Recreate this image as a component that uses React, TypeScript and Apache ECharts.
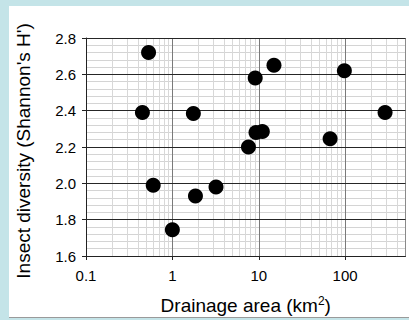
import React, { useEffect, useRef } from "react";
import * as echarts from "echarts";

const drainageArea = [0.53, 0.45, 0.6, 1.0, 1.75, 1.85, 3.2, 7.6, 9.1, 9.3, 11, 15, 98, 67, 290];
const shannonH = [2.72, 2.39, 1.99, 1.745, 2.385, 1.93, 1.98, 2.2, 2.58, 2.28, 2.285, 2.65, 2.62, 2.245, 2.39];

const xMajorTicks = [0.1, 1, 10, 100];
const xMinorTicks = [
  0.2, 0.3, 0.4, 0.5, 0.6, 0.7, 0.8, 0.9,
  2, 3, 4, 5, 6, 7, 8, 9,
  20, 30, 40, 50, 60, 70, 80, 90,
  200, 300, 400,
];
const xMax = 500;
const yMajorTicks = [1.6, 1.8, 2.0, 2.2, 2.4, 2.6, 2.8];

const FONT = "'Liberation Sans', Arial, sans-serif";

export default function App() {
  const ref = useRef<HTMLDivElement>(null);
  useEffect(() => {
    if (!ref.current) return;
    const chart = echarts.init(ref.current, undefined, { renderer: "svg" });
    const points = drainageArea.map((x, i) => [x, shannonH[i]]);
    chart.setOption({
      animation: false,
      backgroundColor: "#c4e4e8",
      graphic: [
        {
          type: "rect",
          z: -10,
          shape: { x: 9, y: 6, width: 400, height: 311 },
          style: { fill: "#ffffff" },
        },
        {
          type: "line",
          z: -9,
          shape: { x1: 9, y1: 317.5, x2: 409, y2: 317.5 },
          style: { stroke: "#9a9a9a", lineWidth: 1 },
        },
      ],
      grid: { left: 86, top: 38, right: 3.5, bottom: 62, containLabel: false },
      xAxis: {
        type: "log",
        logBase: 10,
        min: 0.1,
        max: xMax,
        name: "Drainage area (km{sup|2})",
        nameLocation: "middle",
        nameGap: 39,
        nameTextStyle: {
          fontFamily: FONT,
          fontSize: 19,
          color: "#000",
          rich: {
            sup: {
              fontFamily: FONT,
              fontSize: 12,
              color: "#000",
              verticalAlign: "top",
              padding: [0, 0, 9, 0],
            },
          },
        },
        axisLine: { show: true, lineStyle: { color: "#222", width: 1 } },
        axisTick: { show: true, length: 4, lineStyle: { color: "#222" } },
        axisLabel: {
          fontFamily: FONT,
          fontSize: 15,
          color: "#000",
          margin: 12,
          showMaxLabel: false,
          formatter: (v: number) => {
            const m = xMajorTicks.find((t) => Math.abs(t - v) / t < 1e-6);
            return m === undefined ? "" : String(m);
          },
        },
        splitLine: { show: false },
      },
      yAxis: {
        type: "value",
        min: 1.6,
        max: 2.8,
        interval: 0.2,
        name: "Insect diversity (Shannon's H')",
        nameLocation: "middle",
        nameGap: 53,
        nameTextStyle: {
          fontFamily: FONT,
          fontSize: 19,
          color: "#000",
          padding: [0, 8, 0, 0],
        },
        axisLine: { show: true, lineStyle: { color: "#222", width: 1 } },
        axisTick: { show: true, length: 4, lineStyle: { color: "#222" } },
        axisLabel: {
          fontFamily: FONT,
          fontSize: 15,
          color: "#000",
          margin: 10,
          formatter: (v: number) => v.toFixed(1),
        },
        splitLine: { show: false },
        minorTick: { show: false, splitNumber: 5 },
        minorSplitLine: { show: true, lineStyle: { color: "#d4d4d4", width: 1 } },
      },
      series: [
        {
          type: "line",
          data: [],
          z: 1,
          silent: true,
          markLine: {
            silent: true,
            symbol: "none",
            label: { show: false },
            lineStyle: { color: "#d8d8d8", width: 1, type: "solid" },
            data: xMinorTicks.map((x) => ({ xAxis: x })),
          },
        },
        {
          type: "line",
          data: [],
          z: 2,
          silent: true,
          markLine: {
            silent: true,
            symbol: "none",
            label: { show: false },
            data: [
              ...xMajorTicks.slice(1).map((x) => ({
                xAxis: x,
                lineStyle: { color: "#7a7a7a", width: 1, type: "solid" },
              })),
              { xAxis: xMax, lineStyle: { color: "#8a8a8a", width: 1, type: "solid" } },
              ...yMajorTicks.slice(1).map((y) => ({
                yAxis: y,
                lineStyle: { color: "#262626", width: 1, type: "solid" },
              })),
            ],
          },
        },
        {
          type: "scatter",
          z: 5,
          data: points,
          symbol: "circle",
          symbolSize: 15,
          itemStyle: { color: "#000000", opacity: 1 },
        },
      ],
    });
    return () => chart.dispose();
  }, []);
  return (
    <div
      ref={ref}
      style={{ position: "fixed", left: 0, top: 0, width: 409, height: 320 }}
    />
  );
}
